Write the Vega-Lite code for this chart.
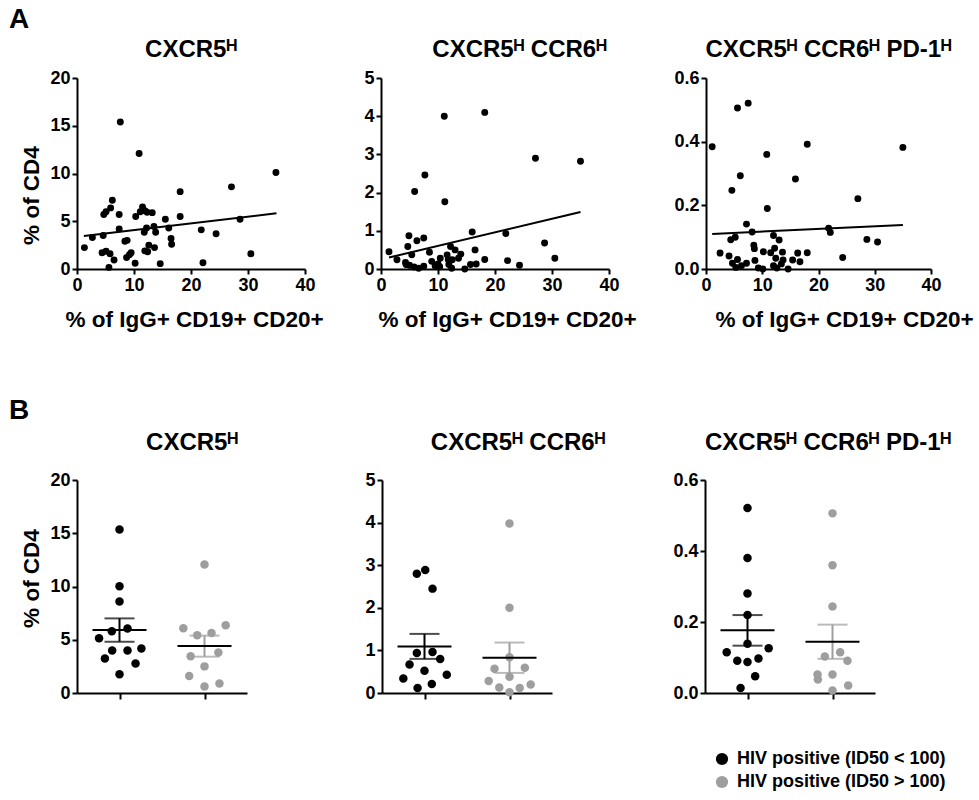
{
  "$schema": "https://vega.github.io/schema/vega-lite/v6.json",
  "background": "white",
  "padding": {"left": 8, "top": 6, "right": 3, "bottom": 5},
  "config": {
    "font": "Liberation Sans",
    "view": {"stroke": null},
    "axis": {"grid": false, "domainColor": "#000", "domainWidth": 2, "tickColor": "#000", "tickWidth": 2, "tickSize": 5,
      "labelFont": "Liberation Sans", "labelFontSize": 18, "labelFontWeight": "bold", "labelColor": "#000", "labelPadding": 2, "labelOverlap": false,
      "titleFont": "Liberation Sans", "titleFontSize": 22.5, "titleFontWeight": "bold", "titleColor": "#000"},
    "axisX": {"labelFlush": false, "titlePadding": 14},
    "axisY": {"titlePadding": 6},
    "title": {"font": "Liberation Sans", "fontSize": 24, "fontWeight": "bold", "color": "#000"}
  },
  "datasets": {
    "s1": [{"x":1.3,"y":2.24},{"x":2.7,"y":3.3},{"x":4.7,"y":5.7},{"x":4.6,"y":3.5},{"x":5.1,"y":6.0},{"x":5.9,"y":6.4},{"x":6.2,"y":7.2},{"x":4.4,"y":1.7},{"x":5.1,"y":1.85},{"x":5.8,"y":1.6},{"x":5.6,"y":0.17},{"x":6.5,"y":0.94},{"x":7.4,"y":5.7},{"x":7.4,"y":4.2},{"x":7.6,"y":15.4},{"x":8.4,"y":2.9},{"x":8.8,"y":3.0},{"x":8.7,"y":1.2},{"x":9.2,"y":1.5},{"x":9.5,"y":1.7},{"x":10.2,"y":0.6},{"x":10.3,"y":5.5},{"x":10.9,"y":12.1},{"x":11.1,"y":6.0},{"x":11.5,"y":6.5},{"x":11.9,"y":6.1},{"x":12.3,"y":5.95},{"x":11.9,"y":1.9},{"x":12.4,"y":1.8},{"x":11.8,"y":3.85},{"x":12.2,"y":4.3},{"x":12.6,"y":2.5},{"x":13.2,"y":5.9},{"x":13.5,"y":4.45},{"x":13.6,"y":2.24},{"x":13.8,"y":3.85},{"x":14.6,"y":0.56},{"x":15.5,"y":5.2},{"x":16.1,"y":4.3},{"x":16.5,"y":3.2},{"x":16.6,"y":2.6},{"x":18.1,"y":8.1},{"x":18.1,"y":5.5},{"x":21.8,"y":4.1},{"x":22.1,"y":0.66},{"x":24.4,"y":3.7},{"x":27.1,"y":8.6},{"x":28.6,"y":5.2},{"x":30.5,"y":1.6},{"x":34.9,"y":10.1}],
    "s2": [{"x":1.4,"y":0.45},{"x":2.8,"y":0.24},{"x":4.3,"y":0.17},{"x":4.9,"y":0.87},{"x":4.7,"y":0.59},{"x":5.4,"y":0.37},{"x":5.9,"y":2.03},{"x":6.3,"y":0.74},{"x":7.5,"y":0.81},{"x":7.7,"y":2.46},{"x":5.8,"y":0.05},{"x":6.6,"y":0.02},{"x":7.5,"y":0.07},{"x":4.4,"y":0.12},{"x":5.0,"y":0.1},{"x":8.5,"y":0.44},{"x":8.9,"y":0.2},{"x":9.5,"y":0.08},{"x":10.4,"y":0.28},{"x":10.3,"y":0.06},{"x":10.0,"y":0.13},{"x":11.1,"y":4.0},{"x":11.2,"y":1.76},{"x":12.2,"y":0.59},{"x":11.6,"y":0.37},{"x":11.8,"y":0.25},{"x":11.9,"y":0.12},{"x":12.5,"y":0.24},{"x":12.4,"y":0.02},{"x":13.0,"y":0.5},{"x":13.6,"y":0.28},{"x":14.0,"y":0.39},{"x":14.7,"y":0.0},{"x":15.7,"y":0.12},{"x":16.7,"y":0.13},{"x":16.0,"y":0.97},{"x":16.5,"y":0.5},{"x":18.2,"y":0.25},{"x":18.2,"y":4.1},{"x":21.9,"y":0.93},{"x":22.2,"y":0.22},{"x":24.3,"y":0.1},{"x":27.1,"y":2.9},{"x":28.7,"y":0.68},{"x":30.5,"y":0.28},{"x":35.0,"y":2.82}],
    "s3": [{"x":1.1,"y":0.384},{"x":2.5,"y":0.05},{"x":4.1,"y":0.041},{"x":4.4,"y":0.092},{"x":5.2,"y":0.1},{"x":4.6,"y":0.247},{"x":4.7,"y":0.018},{"x":5.6,"y":0.03},{"x":5.3,"y":0.005},{"x":6.3,"y":0.01},{"x":7.2,"y":0.018},{"x":5.6,"y":0.506},{"x":6.1,"y":0.293},{"x":7.5,"y":0.521},{"x":7.2,"y":0.141},{"x":8.2,"y":0.116},{"x":8.5,"y":0.075},{"x":8.6,"y":0.064},{"x":8.7,"y":0.027},{"x":9.3,"y":0.003},{"x":10.1,"y":0.0},{"x":10.2,"y":0.054},{"x":10.8,"y":0.36},{"x":10.9,"y":0.19},{"x":12.0,"y":0.105},{"x":12.2,"y":0.065},{"x":11.5,"y":0.051},{"x":12.0,"y":0.01},{"x":12.6,"y":0.003},{"x":12.4,"y":0.034},{"x":13.0,"y":0.091},{"x":13.6,"y":0.053},{"x":13.7,"y":0.028},{"x":13.4,"y":0.016},{"x":14.6,"y":0.0},{"x":15.4,"y":0.028},{"x":15.9,"y":0.283},{"x":16.3,"y":0.05},{"x":16.7,"y":0.023},{"x":18.0,"y":0.392},{"x":18.0,"y":0.051},{"x":21.8,"y":0.128},{"x":22.1,"y":0.115},{"x":24.3,"y":0.036},{"x":27.0,"y":0.221},{"x":28.6,"y":0.093},{"x":30.5,"y":0.085},{"x":35.0,"y":0.382}],
    "f1": [{"x":1.2,"y":3.45},{"x":35,"y":5.84}],
    "f2": [{"x":1.4,"y":0.30},{"x":35,"y":1.49}],
    "f3": [{"x":1.1,"y":0.110},{"x":35,"y":0.1385}],
    "d4": [
      {"group":"HIV positive (ID50 < 100)","v":15.36,"off":0},{"group":"HIV positive (ID50 < 100)","v":10.03,"off":0},{"group":"HIV positive (ID50 < 100)","v":8.6,"off":0},{"group":"HIV positive (ID50 < 100)","v":5.8,"off":-1.05},{"group":"HIV positive (ID50 < 100)","v":6.05,"off":1.1},{"group":"HIV positive (ID50 < 100)","v":5.14,"off":-2.8},{"group":"HIV positive (ID50 < 100)","v":4.0,"off":-1},{"group":"HIV positive (ID50 < 100)","v":4.0,"off":1.1},{"group":"HIV positive (ID50 < 100)","v":4.17,"off":3},{"group":"HIV positive (ID50 < 100)","v":3.23,"off":-2},{"group":"HIV positive (ID50 < 100)","v":2.76,"off":2.2},{"group":"HIV positive (ID50 < 100)","v":1.76,"off":0},
      {"group":"HIV positive (ID50 > 100)","v":12.07,"off":0},{"group":"HIV positive (ID50 > 100)","v":6.08,"off":-2.9},{"group":"HIV positive (ID50 > 100)","v":5.42,"off":-1},{"group":"HIV positive (ID50 > 100)","v":5.64,"off":0.96},{"group":"HIV positive (ID50 > 100)","v":6.36,"off":2.9},{"group":"HIV positive (ID50 > 100)","v":3.8,"off":1.9},{"group":"HIV positive (ID50 > 100)","v":3.45,"off":-1.9},{"group":"HIV positive (ID50 > 100)","v":2.5,"off":0},{"group":"HIV positive (ID50 > 100)","v":1.6,"off":-2.1},{"group":"HIV positive (ID50 > 100)","v":0.9,"off":2.05},{"group":"HIV positive (ID50 > 100)","v":0.6,"off":0}
    ],
    "d5": [
      {"group":"HIV positive (ID50 < 100)","v":2.80,"off":-1.05},{"group":"HIV positive (ID50 < 100)","v":2.89,"off":0.1},{"group":"HIV positive (ID50 < 100)","v":2.45,"off":1.1},{"group":"HIV positive (ID50 < 100)","v":0.94,"off":-1.05},{"group":"HIV positive (ID50 < 100)","v":0.96,"off":1.1},{"group":"HIV positive (ID50 < 100)","v":0.67,"off":-2.05},{"group":"HIV positive (ID50 < 100)","v":0.80,"off":2.15},{"group":"HIV positive (ID50 < 100)","v":0.52,"off":0},{"group":"HIV positive (ID50 < 100)","v":0.34,"off":-2.9},{"group":"HIV positive (ID50 < 100)","v":0.43,"off":3.05},{"group":"HIV positive (ID50 < 100)","v":0.21,"off":1.0},{"group":"HIV positive (ID50 < 100)","v":0.12,"off":-0.95},
      {"group":"HIV positive (ID50 > 100)","v":3.98,"off":0},{"group":"HIV positive (ID50 > 100)","v":2.0,"off":0},{"group":"HIV positive (ID50 > 100)","v":0.84,"off":0},{"group":"HIV positive (ID50 > 100)","v":0.57,"off":-2.05},{"group":"HIV positive (ID50 > 100)","v":0.59,"off":2.1},{"group":"HIV positive (ID50 > 100)","v":0.38,"off":0},{"group":"HIV positive (ID50 > 100)","v":0.28,"off":-2.85},{"group":"HIV positive (ID50 > 100)","v":0.20,"off":2.9},{"group":"HIV positive (ID50 > 100)","v":0.13,"off":-1.4},{"group":"HIV positive (ID50 > 100)","v":0.12,"off":1.4},{"group":"HIV positive (ID50 > 100)","v":0.02,"off":0}
    ],
    "d6": [
      {"group":"HIV positive (ID50 < 100)","v":0.521,"off":0},{"group":"HIV positive (ID50 < 100)","v":0.38,"off":0},{"group":"HIV positive (ID50 < 100)","v":0.28,"off":0},{"group":"HIV positive (ID50 < 100)","v":0.22,"off":0},{"group":"HIV positive (ID50 < 100)","v":0.139,"off":0},{"group":"HIV positive (ID50 < 100)","v":0.115,"off":-2.85},{"group":"HIV positive (ID50 < 100)","v":0.126,"off":2.9},{"group":"HIV positive (ID50 < 100)","v":0.091,"off":-1.4},{"group":"HIV positive (ID50 < 100)","v":0.087,"off":0},{"group":"HIV positive (ID50 < 100)","v":0.097,"off":1.5},{"group":"HIV positive (ID50 < 100)","v":0.047,"off":1.05},{"group":"HIV positive (ID50 < 100)","v":0.014,"off":-0.95},
      {"group":"HIV positive (ID50 > 100)","v":0.506,"off":0},{"group":"HIV positive (ID50 > 100)","v":0.36,"off":0},{"group":"HIV positive (ID50 > 100)","v":0.244,"off":0},{"group":"HIV positive (ID50 > 100)","v":0.103,"off":-1.05},{"group":"HIV positive (ID50 > 100)","v":0.115,"off":1.05},{"group":"HIV positive (ID50 > 100)","v":0.091,"off":2.05},{"group":"HIV positive (ID50 > 100)","v":0.052,"off":-2.05},{"group":"HIV positive (ID50 > 100)","v":0.038,"off":-2.0},{"group":"HIV positive (ID50 > 100)","v":0.052,"off":0},{"group":"HIV positive (ID50 > 100)","v":0.021,"off":2.15},{"group":"HIV positive (ID50 > 100)","v":0.007,"off":0}
    ]
  },
  "spacing": 66,
  "vconcat": [
    {
      "title": {"text": "A", "anchor": "start", "fontSize": 28, "dx": -12, "offset": 4},
      "bounds": "flush",
      "spacing": 76,
      "resolve": {"scale": {"x": "independent", "y": "independent"}},
      "hconcat": [
        {
          "width": 228, "height": 191,
          "title": {"text": "CXCR5ᴴ", "offset": 7},
          "encoding": {
            "x": {"field": "x", "type": "quantitative", "scale": {"domain": [0, 40], "nice": false}, "axis": {"values": [0, 10, 20, 30, 40], "title": "% of IgG+ CD19+ CD20+", "titleX": 117}},
            "y": {"field": "y", "type": "quantitative", "scale": {"domain": [0, 20], "nice": false}, "axis": {"values": [0, 5, 10, 15, 20], "title": "% of CD4", "titleY": 117}}
          },
          "layer": [
            {"data": {"name": "s1"}, "mark": {"type": "circle", "size": 48, "color": "#000", "opacity": 1}},
            {"data": {"name": "f1"}, "mark": {"type": "line", "color": "#000", "strokeWidth": 2}}
          ]
        },
        {
          "width": 249, "height": 191,
          "title": {"text": "CXCR5ᴴ CCR6ᴴ", "offset": 7, "dx": 14},
          "encoding": {
            "x": {"field": "x", "type": "quantitative", "scale": {"domain": [0, 40], "nice": false, "range": [0, 228]}, "axis": {"values": [0, 10, 20, 30, 40], "title": "% of IgG+ CD19+ CD20+", "titleX": 126}},
            "y": {"field": "y", "type": "quantitative", "scale": {"domain": [0, 5], "nice": false}, "axis": {"values": [0, 1, 2, 3, 4, 5], "title": null}}
          },
          "layer": [
            {"data": {"name": "s2"}, "mark": {"type": "circle", "size": 48, "color": "#000", "opacity": 1}},
            {"data": {"name": "f2"}, "mark": {"type": "line", "color": "#000", "strokeWidth": 2}}
          ]
        },
        {
          "width": 225, "height": 191,
          "title": {"text": "CXCR5ᴴ CCR6ᴴ PD-1ᴴ", "offset": 7, "dx": 10},
          "encoding": {
            "x": {"field": "x", "type": "quantitative", "scale": {"domain": [0, 40], "nice": false}, "axis": {"values": [0, 10, 20, 30, 40], "title": "% of IgG+ CD19+ CD20+", "titleX": 138}},
            "y": {"field": "y", "type": "quantitative", "scale": {"domain": [0, 0.6], "nice": false}, "axis": {"values": [0, 0.2, 0.4, 0.6], "format": ".1f", "title": null}}
          },
          "layer": [
            {"data": {"name": "s3"}, "mark": {"type": "circle", "size": 48, "color": "#000", "opacity": 1}},
            {"data": {"name": "f3"}, "mark": {"type": "line", "color": "#000", "strokeWidth": 2}}
          ]
        }
      ]
    },
    {
      "title": {"text": "B", "anchor": "start", "fontSize": 28, "dx": -12, "offset": 6},
      "bounds": "flush",
      "spacing": 135,
      "resolve": {"scale": {"x": "independent", "y": "independent", "color": "independent"}, "legend": {"color": "independent"}},
      "hconcat": [
        {
          "width": 170, "height": 213,
          "title": {"text": "CXCR5ᴴ", "offset": 16, "dx": 30},
          "data": {"name": "d4"},
          "layer": [
            {"transform": [{"filter": "datum.group == 'HIV positive (ID50 < 100)'"}],
             "mark": {"type": "errorbar", "extent": "stderr", "ticks": true, "size": 30, "thickness": 2, "color": "#000"},
             "encoding": {"x": {"field": "group", "type": "nominal", "scale": {"type": "point", "padding": 0.5, "domain": ["HIV positive (ID50 < 100)", "HIV positive (ID50 > 100)"]}, "axis": {"labels": false, "title": null, "tickSize": 6}},
                          "y": {"field": "v", "type": "quantitative", "title": "% of CD4", "scale": {"domain": [0, 20], "nice": false}, "axis": {"values": [0, 5, 10, 15, 20], "title": "% of CD4", "titleY": 98}}}},
            {"transform": [{"filter": "datum.group == 'HIV positive (ID50 > 100)'"}],
             "mark": {"type": "errorbar", "extent": "stderr", "ticks": true, "size": 30, "thickness": 2, "color": "#9e9e9e"},
             "encoding": {"x": {"field": "group", "type": "nominal"}, "y": {"field": "v", "type": "quantitative", "title": "% of CD4"}}},
            {"mark": {"type": "circle", "size": 72, "opacity": 1},
             "encoding": {"x": {"field": "group", "type": "nominal"}, "y": {"field": "v", "type": "quantitative", "title": "% of CD4"},
                          "xOffset": {"field": "off", "type": "quantitative", "scale": {"domain": [-3, 3], "range": [-21.9, 21.9]}},
                          "color": {"field": "group", "type": "nominal", "scale": {"domain": ["HIV positive (ID50 < 100)", "HIV positive (ID50 > 100)"], "range": ["#000000", "#9e9e9e"]}, "legend": null}}},
            {"mark": {"type": "tick", "color": "#000", "thickness": 2, "size": 54},
             "encoding": {"x": {"field": "group", "type": "nominal"}, "y": {"field": "v", "aggregate": "mean", "type": "quantitative", "title": "% of CD4"}}}
          ]
        },
        {
          "width": 188, "height": 213,
          "title": {"text": "CXCR5ᴴ CCR6ᴴ", "offset": 16, "dx": 42},
          "data": {"name": "d5"},
          "layer": [
            {"transform": [{"filter": "datum.group == 'HIV positive (ID50 < 100)'"}],
             "mark": {"type": "errorbar", "extent": "stderr", "ticks": true, "size": 30, "thickness": 2, "color": "#000"},
             "encoding": {"x": {"field": "group", "type": "nominal", "scale": {"type": "point", "padding": 0.5, "range": [0, 170], "domain": ["HIV positive (ID50 < 100)", "HIV positive (ID50 > 100)"]}, "axis": {"labels": false, "title": null, "tickSize": 6}},
                          "y": {"field": "v", "type": "quantitative", "scale": {"domain": [0, 5], "nice": false}, "axis": {"values": [0, 1, 2, 3, 4, 5], "title": null}}}},
            {"transform": [{"filter": "datum.group == 'HIV positive (ID50 > 100)'"}],
             "mark": {"type": "errorbar", "extent": "stderr", "ticks": true, "size": 30, "thickness": 2, "color": "#9e9e9e"},
             "encoding": {"x": {"field": "group", "type": "nominal"}, "y": {"field": "v", "type": "quantitative"}}},
            {"mark": {"type": "circle", "size": 72, "opacity": 1},
             "encoding": {"x": {"field": "group", "type": "nominal"}, "y": {"field": "v", "type": "quantitative"},
                          "xOffset": {"field": "off", "type": "quantitative", "scale": {"domain": [-3, 3], "range": [-21.9, 21.9]}},
                          "color": {"field": "group", "type": "nominal", "scale": {"domain": ["HIV positive (ID50 < 100)", "HIV positive (ID50 > 100)"], "range": ["#000000", "#9e9e9e"]}, "legend": null}}},
            {"mark": {"type": "tick", "color": "#000", "thickness": 2, "size": 54},
             "encoding": {"x": {"field": "group", "type": "nominal"}, "y": {"field": "v", "aggregate": "mean", "type": "quantitative"}}}
          ]
        },
        {
          "width": 170, "height": 213,
          "title": {"text": "CXCR5ᴴ CCR6ᴴ PD-1ᴴ", "offset": 16, "dx": 38},
          "data": {"name": "d6"},
          "layer": [
            {"transform": [{"filter": "datum.group == 'HIV positive (ID50 < 100)'"}],
             "mark": {"type": "errorbar", "extent": "stderr", "ticks": true, "size": 30, "thickness": 2, "color": "#000"},
             "encoding": {"x": {"field": "group", "type": "nominal", "scale": {"type": "point", "padding": 0.5, "domain": ["HIV positive (ID50 < 100)", "HIV positive (ID50 > 100)"]}, "axis": {"labels": false, "title": null, "tickSize": 6}},
                          "y": {"field": "v", "type": "quantitative", "scale": {"domain": [0, 0.6], "nice": false}, "axis": {"values": [0, 0.2, 0.4, 0.6], "format": ".1f", "title": null}}}},
            {"transform": [{"filter": "datum.group == 'HIV positive (ID50 > 100)'"}],
             "mark": {"type": "errorbar", "extent": "stderr", "ticks": true, "size": 30, "thickness": 2, "color": "#9e9e9e"},
             "encoding": {"x": {"field": "group", "type": "nominal"}, "y": {"field": "v", "type": "quantitative"}}},
            {"mark": {"type": "circle", "size": 72, "opacity": 1},
             "encoding": {"x": {"field": "group", "type": "nominal"}, "y": {"field": "v", "type": "quantitative"},
                          "xOffset": {"field": "off", "type": "quantitative", "scale": {"domain": [-3, 3], "range": [-21.9, 21.9]}},
                          "color": {"field": "group", "type": "nominal", "scale": {"domain": ["HIV positive (ID50 < 100)", "HIV positive (ID50 > 100)"], "range": ["#000000", "#9e9e9e"]},
                                    "legend": {"orient": "none", "legendX": 8, "legendY": 270, "title": null, "symbolType": "circle", "symbolSize": 150, "symbolStrokeWidth": 0, "labelFont": "Liberation Sans", "labelFontSize": 18, "labelFontWeight": "bold", "labelColor": "#000", "rowPadding": 5, "padding": 0, "labelLimit": 400, "labelOffset": 6}}}},
            {"mark": {"type": "tick", "color": "#000", "thickness": 2, "size": 54},
             "encoding": {"x": {"field": "group", "type": "nominal"}, "y": {"field": "v", "aggregate": "mean", "type": "quantitative"}}}
          ]
        }
      ]
    }
  ]
}
